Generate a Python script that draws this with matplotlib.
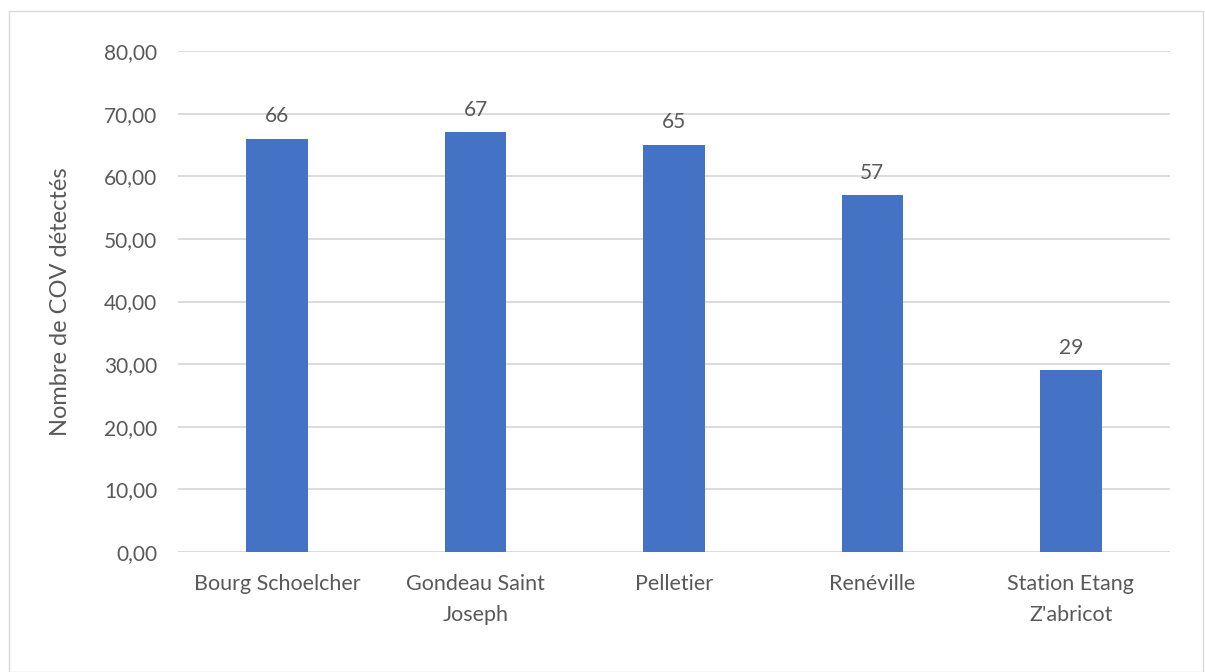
import matplotlib.pyplot as plt
from matplotlib.patches import Rectangle

plt.rcParams['font.family'] = ['Lato', 'DejaVu Sans']

sites = ['Bourg Schoelcher', 'Gondeau Saint\nJoseph', 'Pelletier',
         'Renéville', "Station Etang\nZ'abricot"]
nb_cov = [66, 67, 65, 57, 29]
yticks = [0, 10, 20, 30, 40, 50, 60, 70, 80]

txt_col = '#595959'

fig = plt.figure(figsize=(12.05, 6.72), dpi=100)
ax = fig.add_axes([178 / 1205, 1 - 552 / 672, 992 / 1205, 501 / 672])

x = range(len(sites))
bars = ax.bar(x, nb_cov, width=0.31, color='#4472C4', zorder=3)
for b, v in zip(bars, nb_cov):
    ax.annotate(str(v), (b.get_x() + b.get_width() / 2, v),
                xytext=(0, 9), textcoords='offset points',
                ha='center', va='bottom', fontsize=15, color=txt_col)

ax.set_xlim(-0.5, len(sites) - 0.5)
ax.set_ylim(0, 80)
ax.set_yticks(yticks)
ax.set_yticklabels(['%d,00' % t for t in yticks])
ax.set_xticks(list(x))
ax.set_xticklabels(sites, linespacing=1.7)
ax.tick_params(axis='both', length=0, labelsize=15, colors=txt_col)
ax.tick_params(axis='x', labelsize=15.5, pad=16)
ax.tick_params(axis='y', pad=15)
ax.grid(axis='y', color='#D9D9D9', linewidth=1.3, zorder=0)
for s in ax.spines.values():
    s.set_visible(False)

ax.set_ylabel('Nombre de COV détectés', fontsize=17, color=txt_col, labelpad=24)

# outer chart frame
fig.patches.append(Rectangle((9 / 1205, 0), 1194 / 1205, 1 - 11 / 672,
                             transform=fig.transFigure, fill=False,
                             edgecolor='#D9D9D9', linewidth=1))

fig.savefig('out.png', dpi=100)
